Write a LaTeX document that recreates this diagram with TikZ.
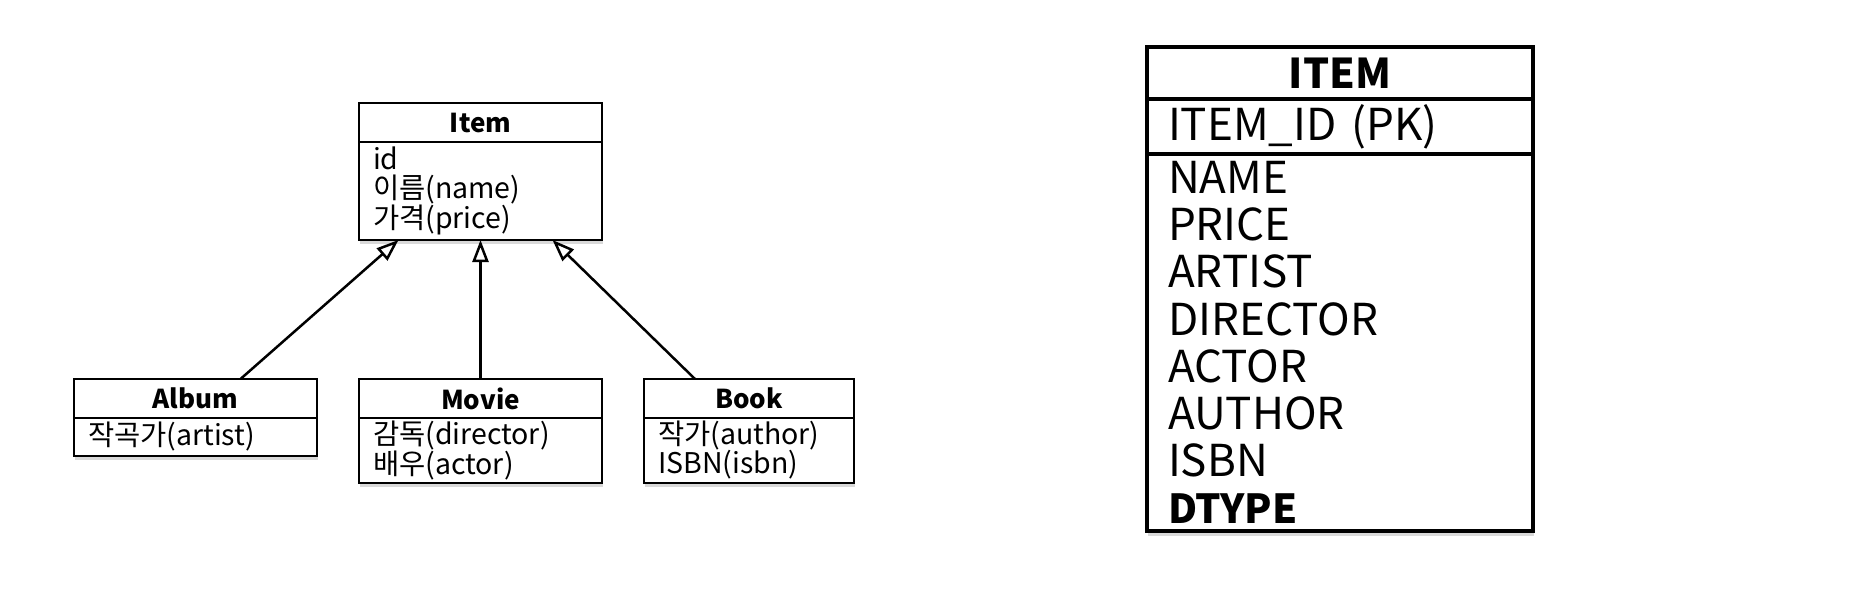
\documentclass[tikz,border=0pt]{standalone}
\usepackage{fontspec}
\setmainfont{Noto Sans CJK KR}
\usetikzlibrary{arrows.meta, positioning, shadows}

\begin{document}
\begin{tikzpicture}[x=1pt, y=-1pt,
  umlhead/.style={draw, line width=2.5pt, fill=white, outer sep=0pt, inner sep=0pt,
    minimum width=#1, minimum height=39pt, font=\fontsize{26}{29}\selectfont\bfseries},
  umlbody/.style={draw, line width=2.5pt, fill=white, outer sep=0pt, inner xsep=14pt, inner ysep=0pt,
    text width=#1, align=left, font=\fontsize{28.5}{29}\selectfont,
    drop shadow={shadow xshift=1pt, shadow yshift=-4pt, opacity=0.3}},
  inherit/.style={-{Triangle[open, length=22pt, width=16pt, fill=white]}, line width=2.5pt},
  tabhead/.style={draw, line width=3.5pt, fill=white, outer sep=0pt, inner sep=0pt,
    minimum width=386pt, font=\fontsize{41}{47}\selectfont\bfseries},
  tabrow/.style={draw, line width=3.5pt, fill=white, outer sep=0pt, inner xsep=21pt, inner ysep=0pt,
    text width=344pt, align=left, font=\fontsize{44}{47.1}\selectfont}]
  \useasboundingbox (0,0) rectangle (1850,600);

  % Klassen
  \node[umlhead=243pt, anchor=north west] (item) at (359,103) {Item};
  \node[umlbody=215pt, minimum height=98pt, below=0pt of item] (itembody) {id\\이름(name)\\가격(price)};

  \node[umlhead=243pt, anchor=north west] (album) at (74,379) {Album};
  \node[umlbody=215pt, minimum height=38pt, below=0pt of album] (albumbody) {작곡가(artist)};

  \node[umlhead=243pt, anchor=north west] (movie) at (359,379) {Movie};
  \node[umlbody=215pt, minimum height=65pt, below=0pt of movie] (moviebody) {감독(director)\\배우(actor)};

  \node[umlhead=210pt, anchor=north west] (book) at (644,379) {Book};
  \node[umlbody=182pt, minimum height=65pt, below=0pt of book] (bookbody) {작가(author)\\ISBN(isbn)};

  % Vererbung
  \draw[inherit] ([xshift=45pt]album.north) -- ([xshift=-82pt]itembody.south);
  \draw[inherit] (movie.north) -- (itembody.south);
  \draw[inherit] ([xshift=-54pt]book.north) -- ([xshift=72pt]itembody.south);

  % Tabelle
  \node[tabhead, minimum height=52pt, anchor=north west] (itemtab) at (1147,47) {ITEM};
  \node[tabrow, minimum height=55pt, below=0pt of itemtab] (itemid) {ITEM\_ID (PK)};
  \node[tabrow, minimum height=377pt, below=0pt of itemid,
    drop shadow={shadow xshift=1pt, shadow yshift=-5pt, opacity=0.3}] (itemcols)
    {NAME\\PRICE\\ARTIST\\DIRECTOR\\ACTOR\\AUTHOR\\ISBN\\{\fontsize{40}{47.1}\selectfont\bfseries DTYPE}};
\end{tikzpicture}
\end{document}
